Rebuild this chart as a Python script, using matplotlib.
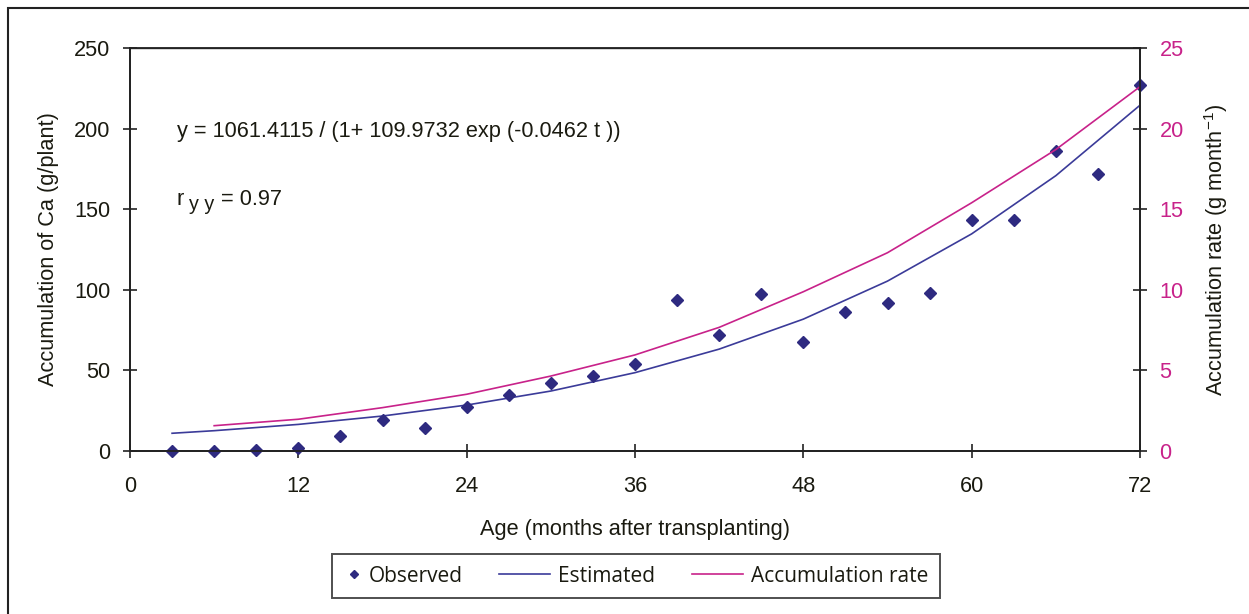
import matplotlib
matplotlib.use("Agg")
import numpy as np
import matplotlib.pyplot as plt
from matplotlib.patches import Rectangle
from matplotlib.legend_handler import HandlerLine2D

plt.rcParams['font.family'] = ['Liberation Sans', 'DejaVu Sans']
plt.rcParams['mathtext.fontset'] = 'custom'
plt.rcParams['mathtext.rm'] = 'Liberation Sans'
plt.rcParams['mathtext.it'] = 'Liberation Sans'

# observed accumulation of Ca (g/plant)
obs_t = [3, 6, 9, 12, 15, 18, 21, 24, 27, 30, 33, 36, 39, 42, 45, 48, 51, 54, 57, 60, 63, 66, 69, 72]
obs_y = [0, 0, 0.5, 2, 9, 19, 14, 27, 35, 42, 46.5, 54, 93.7, 72, 97.4, 67.6, 86, 92, 98, 143, 143, 186, 172, 227]

# estimated (logistic fit)
est_t = [3, 6, 12, 18, 24, 30, 36, 42, 48, 54, 60, 66, 72]
est_y = [11.0, 12.6, 16.5, 21.7, 28.5, 37.2, 48.6, 63.2, 81.8, 105.4, 134.7, 170.8, 214.5]

# accumulation rate (g month-1), right axis
rate_t = [6, 12, 18, 24, 30, 36, 42, 48, 54, 60, 66, 72]
rate_y = [1.57, 1.97, 2.69, 3.52, 4.65, 5.96, 7.67, 9.88, 12.3, 15.4, 18.7, 22.6]

navy = '#2E2A80'
blue = '#3B3B99'
pink = '#C8228A'
txt = '#1a1a10'
FS = 15.7


class MarkerRight(HandlerLine2D):
    # diamond sits just before the label text
    def create_artists(self, legend, orig_handle, xdescent, ydescent, width, height, fontsize, trans):
        arts = super().create_artists(legend, orig_handle, xdescent, ydescent, width, height, fontsize, trans)
        for a in arts:
            n = len(a.get_xdata())
            a.set_xdata(np.full(n, width - 0.3 * fontsize))
        return arts


class LineLeft(HandlerLine2D):
    # line handle longer than the handle box, extending to the left
    def create_artists(self, legend, orig_handle, xdescent, ydescent, width, height, fontsize, trans):
        arts = super().create_artists(legend, orig_handle, xdescent, ydescent, width, height, fontsize, trans)
        for a in arts:
            n = len(a.get_xdata())
            a.set_xdata(np.linspace(width - 2.45 * fontsize, width, n))
        return arts


fig = plt.figure(figsize=(12.49, 6.14), dpi=100)
ax = fig.add_axes([130/1249, 1 - 451/614, 1010/1249, 403/614])
ax2 = ax.twinx()

ax.plot(est_t, est_y, color=blue, lw=1.2, label='Estimated', zorder=3)
ax.plot(obs_t, obs_y, 'D', color=navy, ms=6.5, label='Observed', clip_on=False, zorder=4)
ax2.plot(rate_t, rate_y, color=pink, lw=1.2, label='Accumulation rate')

ax.set_xlim(0, 72)
ax.set_ylim(0, 250)
ax2.set_ylim(0, 25)
ax.set_xticks(range(0, 73, 12))
ax.set_yticks(range(0, 251, 50))
ax2.set_yticks(range(0, 26, 5))

for a in (ax, ax2):
    for s in a.spines.values():
        s.set_color('#222222')
        s.set_linewidth(1.3)
ax.spines['top'].set_color('#333333')
ax.spines['top'].set_linewidth(1.0)

ax.tick_params(direction='inout', length=10, width=1.2, labelsize=FS, colors='#222222',
               labelcolor=txt, pad=9)
ax.tick_params(axis='x', pad=13)
ax2.tick_params(direction='inout', length=10, width=1.2, labelsize=FS, colors='#222222',
                labelcolor=pink, pad=9)

ax.set_xlabel('Age (months after transplanting)', fontsize=FS, color=txt, labelpad=16)
ax.set_ylabel('Accumulation of Ca (g/plant)', fontsize=FS, color=txt, labelpad=11)
ax2.set_ylabel(r'Accumulation rate (g month$^{\mathregular{-1}}$)', fontsize=FS, color=txt, labelpad=13)

tf = fig.transFigure
fig.text(177/1249, 1 - 137/614, 'y = 1061.4115 / (1+ 109.9732 exp (-0.0462 t ))',
         fontsize=FS, color=txt, va='baseline', ha='left')
fig.text(177/1249, 1 - 205/614, 'r', fontsize=FS, color=txt, va='baseline', ha='left')
fig.text(189/1249, 1 - 210/614, 'y y', fontsize=FS - 1.5, color=txt, va='baseline', ha='left')
fig.text(221/1249, 1 - 205/614, '= 0.97', fontsize=FS, color=txt, va='baseline', ha='left')

h1, l1 = ax.get_legend_handles_labels()
h2, l2 = ax2.get_legend_handles_labels()
handles = [h1[1], h1[0], h2[0]]
labels = [l1[1], l1[0], l2[0]]
leg = fig.legend(handles, labels, loc='center', bbox_to_anchor=(636/1249, 1 - 576/614),
                 ncol=3, frameon=True, fancybox=False, edgecolor='#222222',
                 prop={'family': 'Open Sans', 'size': 15},
                 handlelength=0.8, columnspacing=3.4, handletextpad=0.4, borderpad=0.55,
                 borderaxespad=0, markerscale=0.7, numpoints=1,
                 handler_map={h1[1]: MarkerRight(), h1[0]: LineLeft(), h2[0]: LineLeft()})
leg.get_frame().set_linewidth(1.4)
for t in leg.get_texts():
    t.set_color(txt)

# outer frame around the chart area
fig.patches.append(Rectangle((8/1249, -0.1), 1.2, 1 - 8/614 + 0.1, transform=tf,
                             fill=False, edgecolor='#222222', linewidth=1.5))

fig.savefig('out.png', dpi=100)
